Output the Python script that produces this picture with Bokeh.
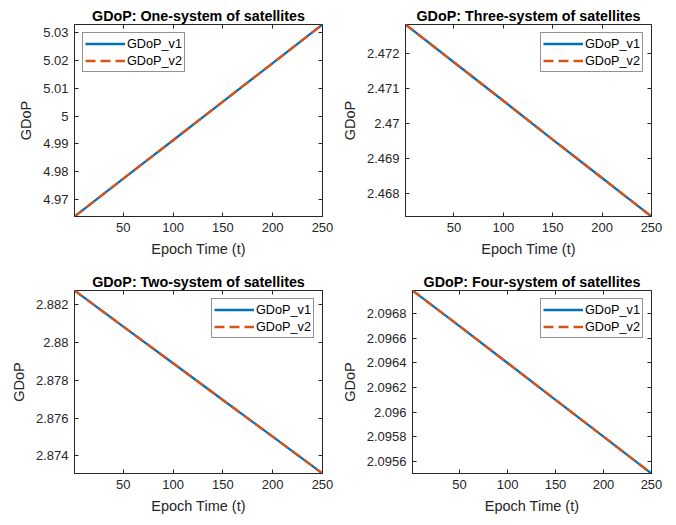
from bokeh.plotting import figure
from bokeh.models import (Range1d, FixedTicker, LinearAxis, CustomJSTickFormatter, Legend,
                          LegendItem, CustomLabelingPolicy)
from bokeh.layouts import column, row
from bokeh.embed import file_html
from bokeh.resources import INLINE

epoch = [1, 50, 100, 150, 200, 250]

one_v1 = [4.9639, 4.9775, 4.9913, 5.0052, 5.0190, 5.0329]
one_v2 = [4.9639, 4.9775, 4.9913, 5.0052, 5.0190, 5.0329]
three_v1 = [2.47284, 2.47176, 2.47066, 2.46955, 2.46845, 2.46735]
three_v2 = [2.47284, 2.47176, 2.47066, 2.46955, 2.46845, 2.46735]
two_v1 = [2.88276, 2.88085, 2.87891, 2.87696, 2.87502, 2.87307]
two_v2 = [2.88276, 2.88085, 2.87891, 2.87696, 2.87502, 2.87307]
four_v1 = [2.09699, 2.09670, 2.09640, 2.09610, 2.09580, 2.09550]
four_v2 = [2.09699, 2.09670, 2.09640, 2.09610, 2.09580, 2.09550]

x_ticks = [50, 100, 150, 200, 250]
one_ticks = [4.97, 4.98, 4.99, 5.0, 5.01, 5.02, 5.03]
three_ticks = [2.468, 2.469, 2.47, 2.471, 2.472]
two_ticks = [2.874, 2.876, 2.878, 2.88, 2.882]
four_ticks = [2.0956, 2.0958, 2.096, 2.0962, 2.0964, 2.0966, 2.0968]

titles = ["GDoP: One-system of satellites", "GDoP: Three-system of satellites",
          "GDoP: Two-system of satellites", "GDoP: Four-system of satellites"]
series_labels = ["GDoP_v1", "GDoP_v2"]

FONT = "Liberation Sans"
AX = "#262626"
BLUE = "#0072BD"
ORANGE = "#D95319"

fmt = CustomJSTickFormatter(code="return String(Number(tick.toFixed(5)));")
hide = CustomLabelingPolicy(code="return new Set()")


def make(title, v1, v2, yticks, legend_loc, w, h, left, right, top, bottom):
    p = figure(width=w, height=h, output_backend="svg", toolbar_location=None,
               x_range=Range1d(min(epoch), max(epoch)),
               y_range=Range1d(min(v1 + v2), max(v1 + v2)),
               min_border_left=left, min_border_right=right,
               min_border_top=top, min_border_bottom=bottom)
    p.title.text = title
    p.title.align = "center"
    p.title.text_font = FONT
    p.title.text_font_size = "14.3px"
    p.title.text_font_style = "bold"
    p.title.text_color = "#000000"
    p.title.standoff = 2
    p.outline_line_color = AX
    p.outline_line_width = 1
    p.outline_line_alpha = 1
    p.grid.visible = False
    p.background_fill_color = "white"
    p.border_fill_color = "white"

    p.xaxis.ticker = FixedTicker(ticks=x_ticks)
    p.yaxis.ticker = FixedTicker(ticks=yticks)
    p.yaxis.formatter = fmt
    p.xaxis.axis_label = "Epoch Time (t)"
    p.yaxis.axis_label = "GDoP"
    for ax in [p.xaxis[0], p.yaxis[0]]:
        ax.axis_line_color = AX
        ax.major_tick_in = 4
        ax.major_tick_out = 0
        ax.major_tick_line_color = AX
        ax.minor_tick_line_color = None
        ax.major_label_text_font = FONT
        ax.major_label_text_font_size = "13px"
        ax.major_label_text_color = AX
        ax.axis_label_text_font = FONT
        ax.axis_label_text_font_size = "14.5px"
        ax.axis_label_text_font_style = "normal"
        ax.axis_label_text_color = AX
        ax.major_label_standoff = 6
        ax.axis_label_standoff = 6

    for loc, tk in [("right", yticks), ("above", x_ticks)]:
        ax2 = LinearAxis(ticker=FixedTicker(ticks=tk), major_label_text_font_size="0px",
                         major_label_policy=hide,
                         major_tick_in=4, major_tick_out=0, major_tick_line_color=AX,
                         minor_tick_line_color=None, axis_line_color=None,
                         major_label_standoff=0)
        p.add_layout(ax2, loc)

    r1 = p.line(epoch, v1, line_color=BLUE, line_width=2.3)
    r2 = p.line(epoch, v2, line_color=ORANGE, line_width=2.3, line_dash="10 5")
    leg = Legend(items=[LegendItem(label=series_labels[0], renderers=[r1]),
                        LegendItem(label=series_labels[1], renderers=[r2])],
                 location=legend_loc)
    leg.label_text_font = FONT
    leg.label_text_font_size = "12.7px"
    leg.label_text_color = "#000000"
    leg.border_line_color = AX
    leg.border_line_width = 1
    leg.background_fill_alpha = 1
    leg.glyph_width = 40
    leg.glyph_height = 17
    leg.label_height = 17
    leg.label_standoff = 2
    leg.spacing = 0
    leg.padding = 2
    leg.margin = 8
    p.add_layout(leg, "center")
    return p


p1 = make(titles[0], one_v1, one_v2, one_ticks, "top_left", 338, 262, 74, 16, 24, 46)
p2 = make(titles[1], three_v1, three_v2, three_ticks, "top_right", 330, 262, 65, 17, 24, 46)
p3 = make(titles[2], two_v1, two_v2, two_ticks, "top_right", 338, 254, 74, 16, 28, 34)
p4 = make(titles[3], four_v1, four_v2, four_ticks, "top_right", 330, 254, 65, 17, 28, 34)

layout = column(row(p1, p2), row(p3, p4))

open("out.html", "w").write(file_html(layout, INLINE))
